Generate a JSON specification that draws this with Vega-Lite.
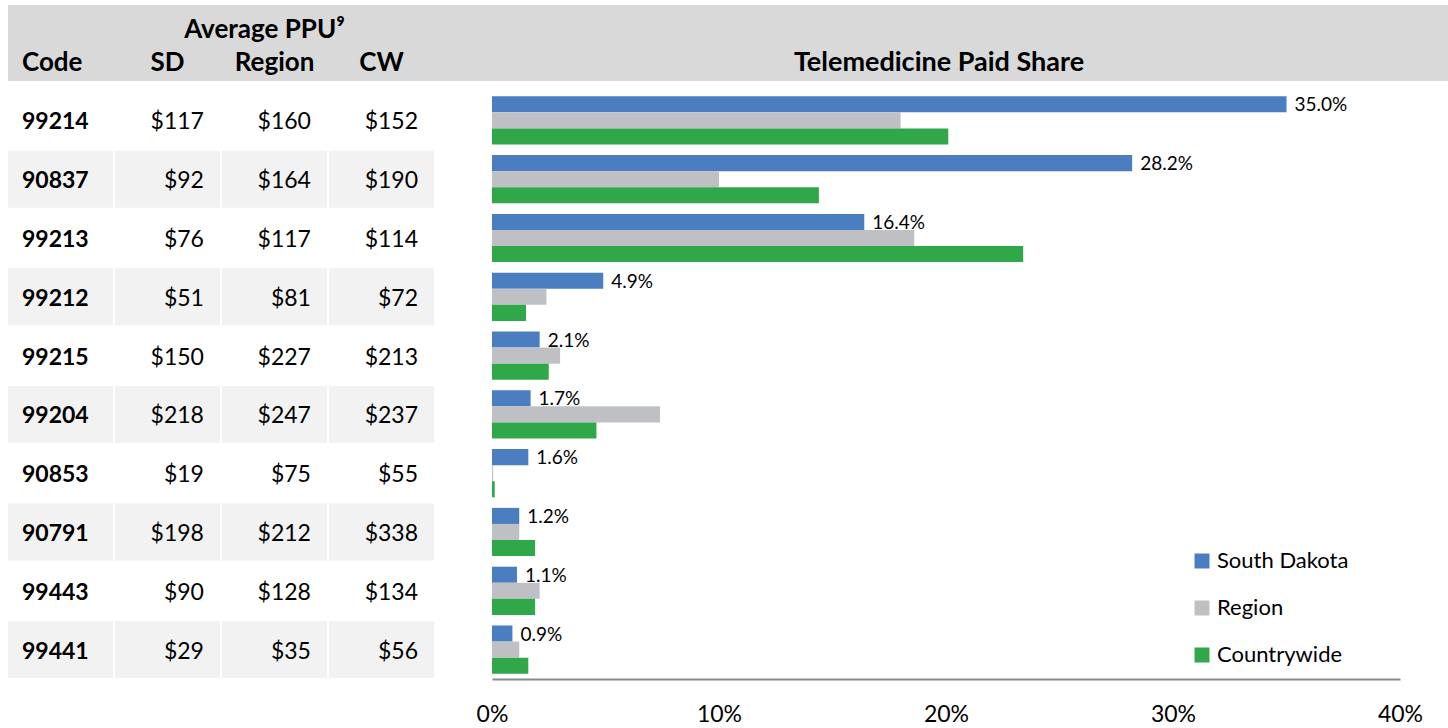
{
  "$schema": "https://vega.github.io/schema/vega-lite/v6.json",
  "padding": {"left": 8, "top": 5, "right": 0, "bottom": 0},
  "background": "white",
  "config": {"view": {"stroke": null}, "font": "Lato", "text": {"font": "Lato", "color": "black"}},
  "datasets": {
    "header": [
      {"label": "Average PPU⁹", "col": "Region", "row": "top"},
      {"label": "Code", "col": "code", "row": "bottom"},
      {"label": "SD", "col": "SD", "row": "bottom"},
      {"label": "Region", "col": "Region", "row": "bottom"},
      {"label": "CW", "col": "CW", "row": "bottom"}
    ],
    "title": [{"label": "Telemedicine Paid Share", "row": "bottom"}],
    "ppu": [
      {"code": "99214", "SD": 117, "Region": 160, "CW": 152},
      {"code": "90837", "SD": 92, "Region": 164, "CW": 190},
      {"code": "99213", "SD": 76, "Region": 117, "CW": 114},
      {"code": "99212", "SD": 51, "Region": 81, "CW": 72},
      {"code": "99215", "SD": 150, "Region": 227, "CW": 213},
      {"code": "99204", "SD": 218, "Region": 247, "CW": 237},
      {"code": "90853", "SD": 19, "Region": 75, "CW": 55},
      {"code": "90791", "SD": 198, "Region": 212, "CW": 338},
      {"code": "99443", "SD": 90, "Region": 128, "CW": 134},
      {"code": "99441", "SD": 29, "Region": 35, "CW": 56}
    ],
    "share": [
      {"code": "99214", "series": "South Dakota", "share": 0.350},
      {"code": "99214", "series": "Region", "share": 0.180},
      {"code": "99214", "series": "Countrywide", "share": 0.201},
      {"code": "90837", "series": "South Dakota", "share": 0.282},
      {"code": "90837", "series": "Region", "share": 0.100},
      {"code": "90837", "series": "Countrywide", "share": 0.144},
      {"code": "99213", "series": "South Dakota", "share": 0.164},
      {"code": "99213", "series": "Region", "share": 0.186},
      {"code": "99213", "series": "Countrywide", "share": 0.234},
      {"code": "99212", "series": "South Dakota", "share": 0.049},
      {"code": "99212", "series": "Region", "share": 0.024},
      {"code": "99212", "series": "Countrywide", "share": 0.015},
      {"code": "99215", "series": "South Dakota", "share": 0.021},
      {"code": "99215", "series": "Region", "share": 0.030},
      {"code": "99215", "series": "Countrywide", "share": 0.025},
      {"code": "99204", "series": "South Dakota", "share": 0.017},
      {"code": "99204", "series": "Region", "share": 0.074},
      {"code": "99204", "series": "Countrywide", "share": 0.046},
      {"code": "90853", "series": "South Dakota", "share": 0.016},
      {"code": "90853", "series": "Region", "share": 0.0005},
      {"code": "90853", "series": "Countrywide", "share": 0.0012},
      {"code": "90791", "series": "South Dakota", "share": 0.012},
      {"code": "90791", "series": "Region", "share": 0.012},
      {"code": "90791", "series": "Countrywide", "share": 0.019},
      {"code": "99443", "series": "South Dakota", "share": 0.011},
      {"code": "99443", "series": "Region", "share": 0.021},
      {"code": "99443", "series": "Countrywide", "share": 0.019},
      {"code": "99441", "series": "South Dakota", "share": 0.009},
      {"code": "99441", "series": "Region", "share": 0.012},
      {"code": "99441", "series": "Countrywide", "share": 0.016}
    ]
  },
  "spacing": 10,
  "resolve": {"scale": {"x": "independent", "y": "independent"}},
  "vconcat": [
    {
      "spacing": 0,
      "bounds": "flush",
      "resolve": {"scale": {"x": "independent", "y": "independent"}},
      "hconcat": [
        {
          "width": 426,
          "height": 76,
          "view": {"fill": "#D9D9D9", "stroke": null},
          "data": {"name": "header"},
          "layer": [
            {
              "transform": [{"filter": "datum.col === 'code'"}],
              "mark": {"type": "text", "align": "left", "dx": 14, "baseline": "middle", "fontSize": 26, "fontWeight": "bold"},
              "encoding": {
                "x": {"field": "col", "type": "nominal", "bandPosition": 0, "scale": {"type": "band", "domain": ["code", "SD", "Region", "CW"], "paddingInner": 0.02, "paddingOuter": 0}, "axis": null},
                "y": {"field": "row", "type": "nominal", "scale": {"type": "point", "domain": ["top", "bottom"], "padding": 0.65, "align": 0.58}, "axis": null},
                "text": {"field": "label"}
              }
            },
            {
              "transform": [{"filter": "datum.col !== 'code' && datum.row === 'bottom'"}],
              "mark": {"type": "text", "align": "center", "baseline": "middle", "fontSize": 26, "fontWeight": "bold"},
              "encoding": {
                "x": {"field": "col", "type": "nominal", "scale": {"type": "band", "domain": ["code", "SD", "Region", "CW"], "paddingInner": 0.02, "paddingOuter": 0}, "axis": null},
                "y": {"field": "row", "type": "nominal", "scale": {"type": "point", "domain": ["top", "bottom"], "padding": 0.65, "align": 0.58}, "axis": null},
                "text": {"field": "label"}
              }
            },
            {
              "transform": [{"filter": "datum.row === 'top'"}],
              "mark": {"type": "text", "align": "center", "dx": -10, "baseline": "middle", "fontSize": 26, "fontWeight": "bold"},
              "encoding": {
                "x": {"field": "col", "type": "nominal", "scale": {"type": "band", "domain": ["code", "SD", "Region", "CW"], "paddingInner": 0.02, "paddingOuter": 0}, "axis": null},
                "y": {"field": "row", "type": "nominal", "scale": {"type": "point", "domain": ["top", "bottom"], "padding": 0.65, "align": 0.58}, "axis": null},
                "text": {"field": "label"}
              }
            }
          ]
        },
        {
          "width": 1014,
          "height": 76,
          "view": {"fill": "#D9D9D9", "stroke": null},
          "data": {"name": "title"},
          "mark": {"type": "text", "align": "center", "baseline": "middle", "fontSize": 27, "fontWeight": "bold", "dx": -2},
          "encoding": {
            "y": {"field": "row", "type": "nominal", "scale": {"type": "point", "domain": ["top", "bottom"], "padding": 0.65, "align": 0.58}, "axis": null},
            "text": {"field": "label"}
          }
        }
      ]
    },
    {
      "spacing": 58,
      "bounds": "flush",
      "resolve": {"scale": {"x": "independent", "y": "independent"}},
      "hconcat": [
        {
          "width": 426,
          "height": 588,
          "data": {"name": "ppu"},
          "transform": [{"fold": ["code", "SD", "Region", "CW"], "as": ["col", "val"]}],
          "layer": [
            {
              "transform": [{"filter": {"field": "code", "oneOf": ["90837", "99212", "99204", "90791", "99441"]}}],
              "mark": {"type": "rect", "color": "#F2F2F2"},
              "encoding": {
                "x": {"field": "col", "type": "nominal", "scale": {"type": "band", "domain": ["code", "SD", "Region", "CW"], "paddingInner": 0.02, "paddingOuter": 0}, "axis": null},
                "y": {"field": "code", "type": "nominal", "scale": {"type": "band", "domain": ["99214", "90837", "99213", "99212", "99215", "99204", "90853", "90791", "99443", "99441"], "paddingInner": 0.03, "paddingOuter": 0.015}, "axis": null}
              }
            },
            {
              "transform": [{"filter": "datum.col === 'code'"}],
              "mark": {"type": "text", "align": "left", "dx": 14, "dy": 2, "baseline": "middle", "fontSize": 23, "fontWeight": "bold"},
              "encoding": {
                "x": {"field": "col", "type": "nominal", "bandPosition": 0, "scale": {"type": "band", "domain": ["code", "SD", "Region", "CW"], "paddingInner": 0.02, "paddingOuter": 0}, "axis": null},
                "y": {"field": "code", "type": "nominal", "axis": null},
                "text": {"field": "val"}
              }
            },
            {
              "transform": [{"filter": "datum.col !== 'code'"}],
              "mark": {"type": "text", "align": "right", "dx": -16, "dy": 2, "baseline": "middle", "fontSize": 23},
              "encoding": {
                "x": {"field": "col", "type": "nominal", "bandPosition": 1, "scale": {"type": "band", "domain": ["code", "SD", "Region", "CW"], "paddingInner": 0.02, "paddingOuter": 0}, "axis": null},
                "y": {"field": "code", "type": "nominal", "axis": null},
                "text": {"field": "val", "type": "quantitative", "format": "$.0f"}
              }
            }
          ]
        },
        {
          "width": 908,
          "height": 588,
          "data": {"name": "share"},
          "encoding": {
            "y": {"field": "code", "type": "nominal", "scale": {"domain": ["99214", "90837", "99213", "99212", "99215", "99204", "90853", "90791", "99443", "99441"], "paddingInner": 0.18, "paddingOuter": 0.09}, "axis": null},
            "yOffset": {"field": "series", "type": "nominal", "scale": {"domain": ["South Dakota", "Region", "Countrywide"], "paddingInner": 0, "paddingOuter": 0}},
            "x": {
              "field": "share", "type": "quantitative",
              "scale": {"domain": [0, 0.4], "nice": false},
              "axis": {"values": [0, 0.1, 0.2, 0.3, 0.4], "format": ".0%", "title": null, "grid": false, "ticks": false, "labelFont": "Lato", "labelFontSize": 23, "labelColor": "black", "labelPadding": 24, "domainColor": "#898989", "domainWidth": 2, "labelFlush": false}
            }
          },
          "layer": [
            {
              "mark": {"type": "bar"},
              "encoding": {
                "color": {
                  "field": "series", "type": "nominal",
                  "scale": {"domain": ["South Dakota", "Region", "Countrywide"], "range": ["#4A7EC1", "#BFC0C4", "#30A84A"]},
                  "legend": {"title": null, "orient": "none", "legendX": 1183, "legendY": 545, "symbolType": "square", "symbolSize": 225, "symbolStrokeWidth": 0, "symbolOpacity": 1, "labelFont": "Lato", "labelFontSize": 22, "labelColor": "black", "labelOffset": 4, "rowPadding": 25, "padding": 0, "offset": 0}
                }
              }
            },
            {
              "transform": [{"filter": "datum.series === 'South Dakota'"}],
              "mark": {"type": "text", "align": "left", "dx": 8, "dy": 1, "baseline": "middle", "fontSize": 19},
              "encoding": {
                "text": {"field": "share", "type": "quantitative", "format": ".1%"}
              }
            }
          ]
        }
      ]
    }
  ]
}
